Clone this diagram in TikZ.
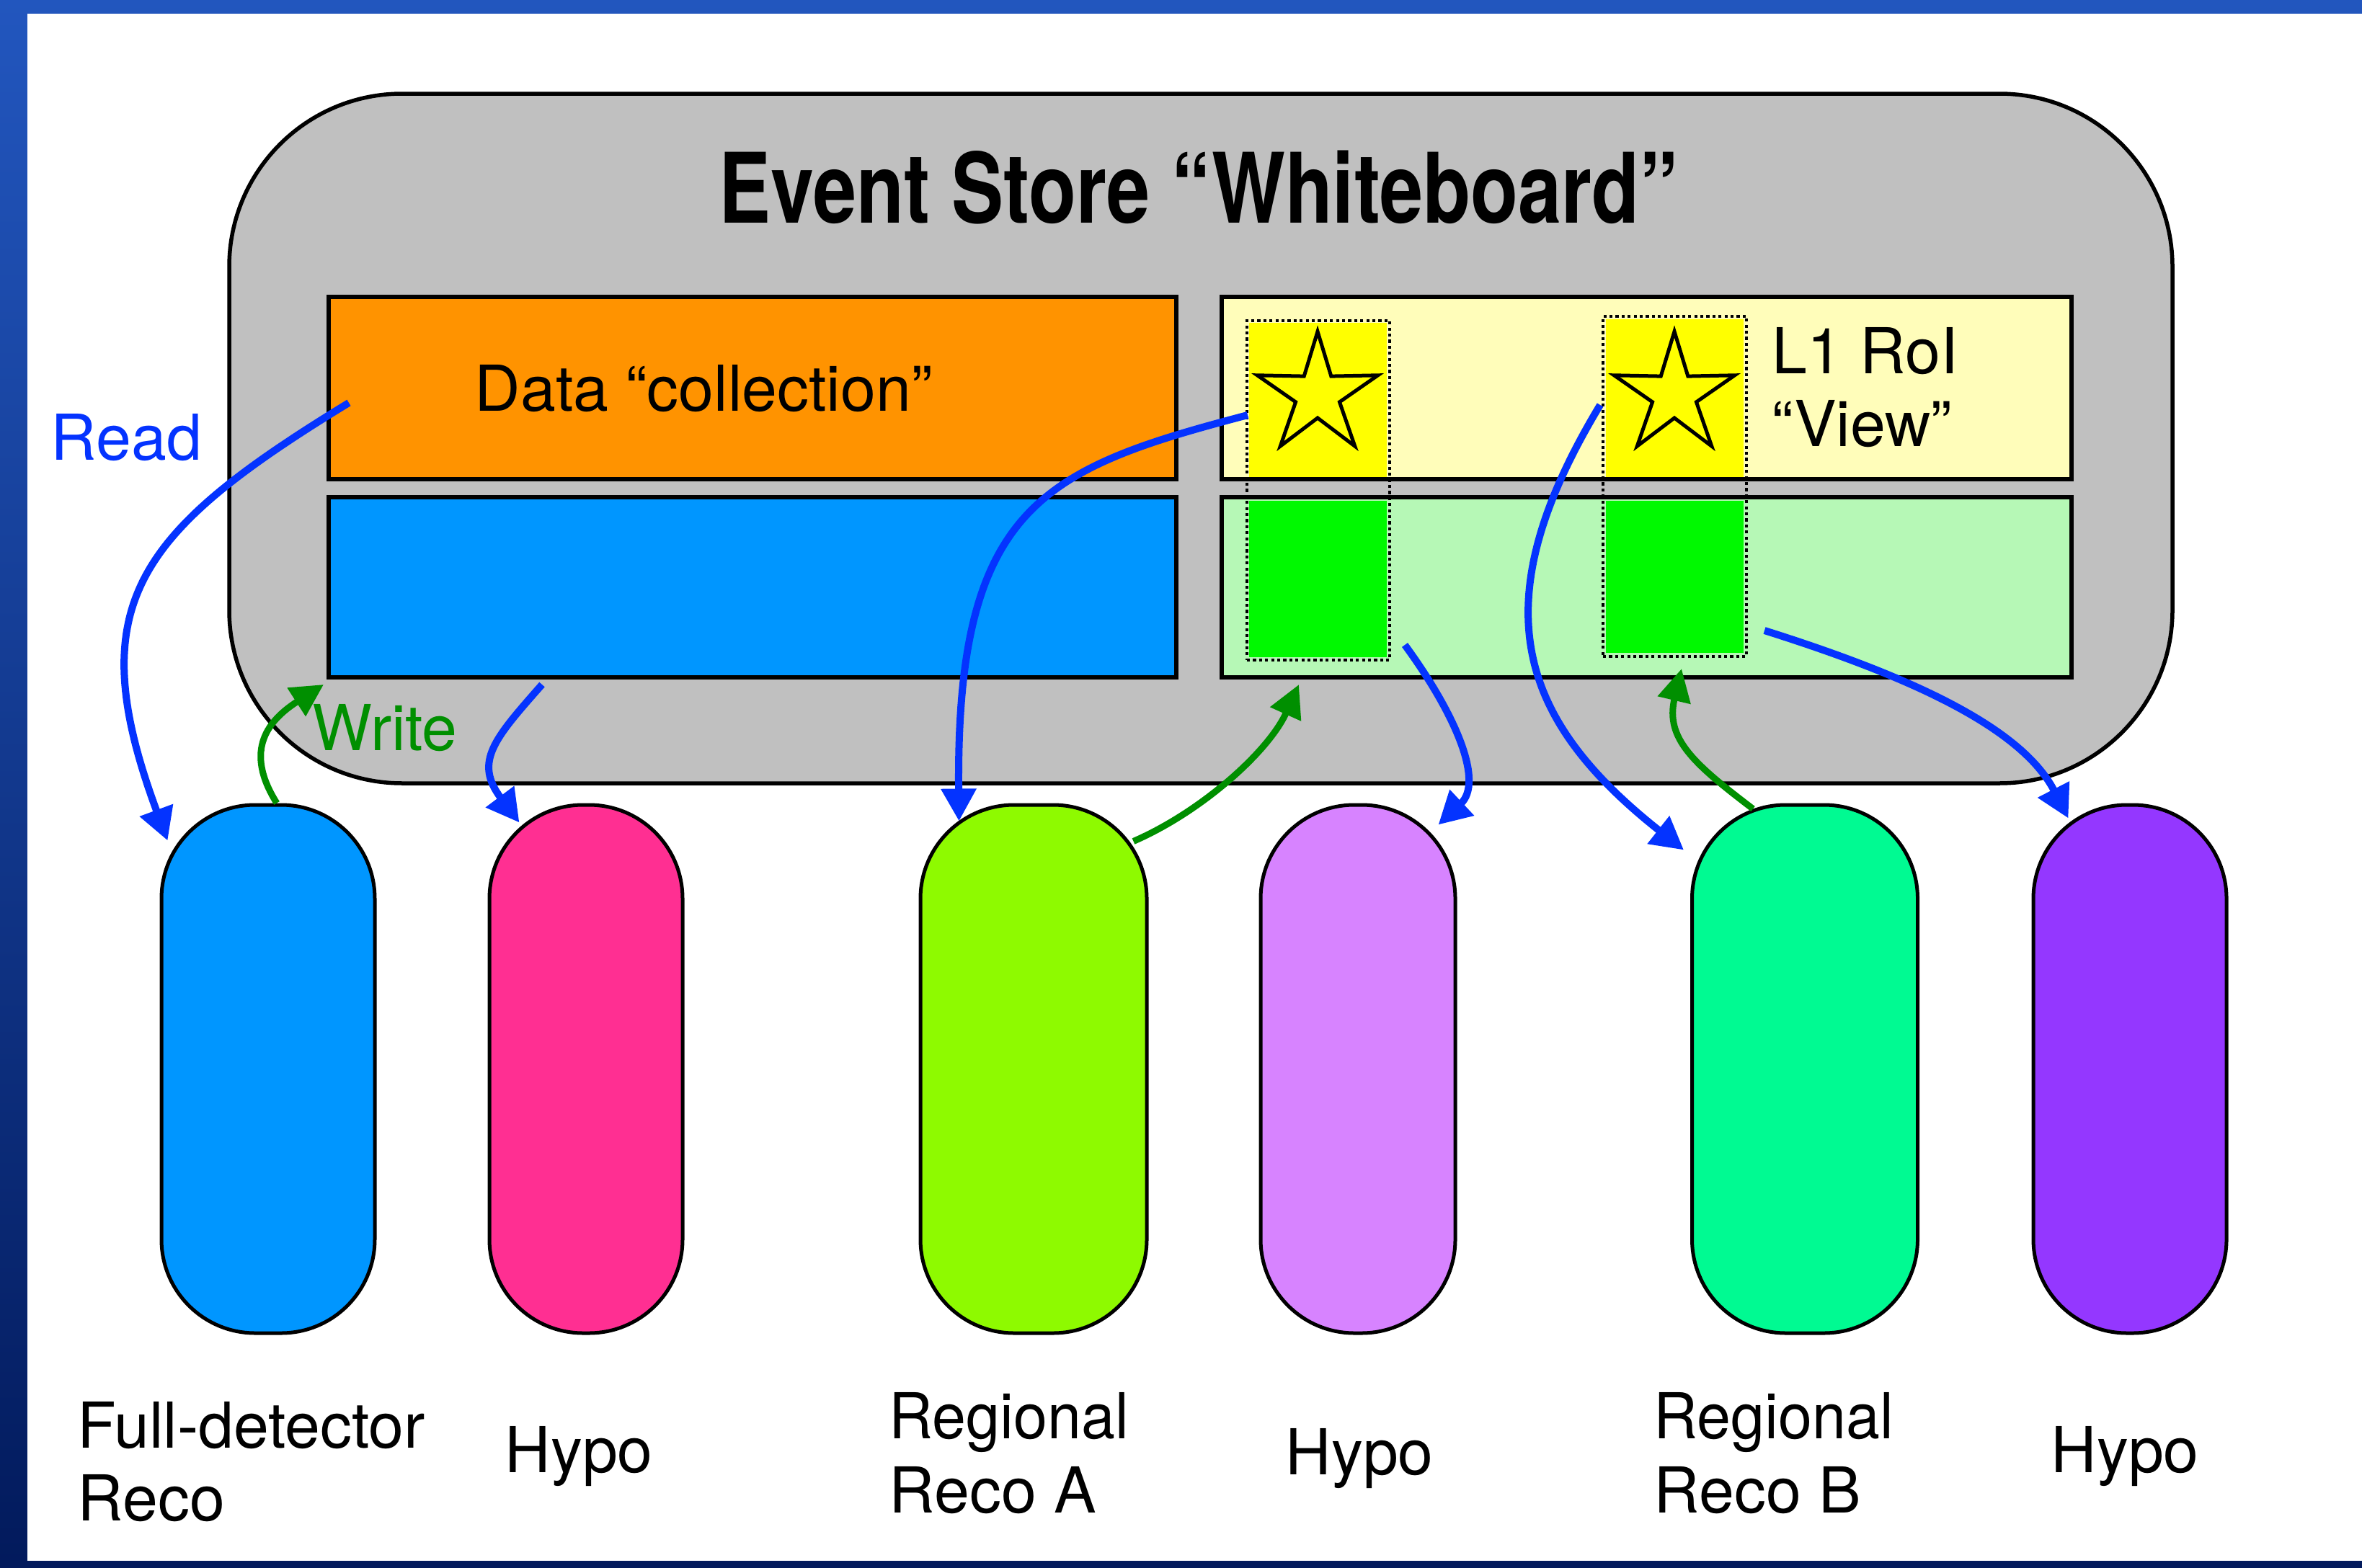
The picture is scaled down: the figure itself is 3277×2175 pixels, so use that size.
\documentclass[tikz,border=0pt]{standalone}
\usepackage{fontspec}
\setmainfont{TeX Gyre Heros}
\usepackage{graphicx}
\usetikzlibrary{shapes.geometric,arrows.meta,calc}
\definecolor{frTop}{HTML}{2256BE}
\definecolor{frBot}{HTML}{021A5C}
\definecolor{wbgray}{HTML}{C0C0C0}
\definecolor{tangerine}{HTML}{FF9300}
\definecolor{aqua}{HTML}{0096FF}
\definecolor{paleyellow}{HTML}{FFFDBA}
\definecolor{palegreen}{HTML}{B6F8B6}
\definecolor{lemon}{HTML}{FFFF00}
\definecolor{spring}{HTML}{00F900}
\definecolor{strawberry}{HTML}{FF2F92}
\definecolor{lime}{HTML}{8EFA00}
\definecolor{lavender}{HTML}{D783FF}
\definecolor{seafoam}{HTML}{00FA92}
\definecolor{grape}{HTML}{9437FF}
\definecolor{blueberry}{HTML}{0433FF}
\definecolor{clover}{HTML}{008F00}
\begin{document}
\begin{tikzpicture}[x=0.1mm,y=-0.1mm,
  every node/.style={font=\fontsize{25}{29}\selectfont},
  lbl/.style={anchor=base west,inner sep=0pt},
  box/.style={draw=black,line width=0.55mm,rectangle,inner sep=0pt},
  cell/.style={rectangle,inner sep=0pt,draw=none},
  viewbox/.style={rectangle,inner sep=0pt,draw=black,line width=0.42mm,dash pattern=on 0.42mm off 0.42mm},
  rstar/.style={star,star points=5,star point ratio=2.75,minimum size=17.6mm,inner sep=0pt,fill=lemon,draw=black,line width=0.5mm},
  pill/.style={rectangle,draw=black,line width=0.5mm,rounded corners=13mm,minimum height=73.3mm,inner sep=0pt},
  rd/.style={draw=blueberry,line width=1mm,-{Triangle[length=4.5mm,width=4.7mm]}},
  wr/.style={draw=clover,line width=0.9mm,-{Triangle[length=4.5mm,width=4.5mm]}}]
\useasboundingbox (0,0) rectangle (3277,2175);
% frame
\fill[top color=frTop,bottom color=frBot] (0,0) rectangle (3277,2175);
\fill[white] (38,19) rectangle (3277,2166);
% whiteboard
\node[draw=black,line width=0.55mm,fill=wbgray,rounded corners=24mm,minimum width=269.6mm,minimum height=95.7mm,inner sep=0pt] (wb) at (1666,608.5) {};
\node[anchor=base,inner sep=0pt,font=\bfseries\fontsize{38.4}{40}\selectfont] (title) at (1663,310) {\scalebox{0.8}[1]{Event Store “Whiteboard”}};
% store boxes
\node[box,fill=tangerine,minimum width=117.6mm,minimum height=25.3mm] (dc) at (1044,538.5) {};
\node[box,fill=aqua,minimum width=117.6mm,minimum height=25mm] (aq) at (1044,815) {};
\node[box,fill=paleyellow,minimum width=117.9mm,minimum height=25.3mm] (ly) at (2284.5,538.5) {};
\node[box,fill=palegreen,minimum width=117.9mm,minimum height=25mm] (lg) at (2284.5,815) {};
\node[lbl] (dctext) at (658,570) {Data “collection”};
% views
\node[cell,fill=lemon,minimum width=19.1mm,minimum height=21.4mm] (y1) at (1828.5,555) {};
\node[cell,fill=spring,minimum width=19.1mm,minimum height=21.7mm] (g1) at (1828.5,803.5) {};
\node[viewbox,minimum width=19.8mm,minimum height=47.1mm] (v1) at (1829,680.5) {};
\node[cell,fill=lemon,minimum width=19.1mm,minimum height=21.9mm] (y2) at (2323.5,552.5) {};
\node[cell,fill=spring,minimum width=19.1mm,minimum height=21.1mm] (g2) at (2323.5,800.5) {};
\node[viewbox,minimum width=19.9mm,minimum height=47.2mm] (v2) at (2323.5,675) {};
\node[rstar] (s1) at (1828,548) {};
\node[rstar] (s2) at (2323,548) {};
\node[lbl] (l1a) at (2458,518) {L1 RoI};
\node[lbl] (l1b) at (2458,619) {“View”};
% side labels
\node[lbl,text=blueberry] (read) at (70,638) {Read};
\node[lbl,text=clover] (write) at (433,1041) {Write};
% algorithms
\node[pill,fill=aqua,minimum width=29.6mm] (p1) at (372,1483.5) {};
\node[pill,fill=strawberry,minimum width=26.8mm] (p2) at (813,1483.5) {};
\node[pill,fill=lime,minimum width=31.4mm] (p3) at (1434,1483.5) {};
\node[pill,fill=lavender,minimum width=27mm] (p4) at (1884,1483.5) {};
\node[pill,fill=seafoam,minimum width=31.3mm] (p5) at (2504,1483.5) {};
\node[pill,fill=grape,minimum width=26.8mm] (p6) at (2955,1483.5) {};
\node[lbl] (t1a) at (107,2009) {Full-detector};
\node[lbl] (t1b) at (107,2110) {Reco};
\node[lbl] (t2) at (700,2043) {Hypo};
\node[lbl] (t3a) at (1233,1996) {\scalebox{0.96}[1]{Regional}};
\node[lbl] (t3b) at (1233,2099) {Reco A};
\node[lbl] (t4) at (1783,2046) {Hypo};
\node[lbl] (t5a) at (2294,1996) {\scalebox{0.96}[1]{Regional}};
\node[lbl] (t5b) at (2294,2099) {Reco B};
\node[lbl] (t6) at (2845,2043) {Hypo};
% connector free ends
\coordinate (rdA) at (484,559);
\coordinate (rdB) at (752,950);
\coordinate (rdC) at (1731,576);
\coordinate (wrA) at (1802,950);
\coordinate (rdD) at (1949,895);
\coordinate (rdE) at (2220,562);
\coordinate (wrB) at (2333,928);
\coordinate (rdF) at (2448,875);
\coordinate (wrC) at (449,950);
% connectors
\draw[rd] (rdA) .. controls (186,741) and (112,841) .. ($(p1.north west)+(11,52)$);
\draw[wr] ($(p1.north)+(12,0)$) .. controls (337,1040) and (373,999) .. (wrC);
\draw[rd] (rdB) .. controls (686,1025) and (657,1057) .. ($(p2.north west)+(44,27)$);
\draw[rd] (rdC) .. controls (1450,650) and (1326,700) .. ($(p3.north west)+(56,25)$);
\draw[wr] ($(p3.north east)+(-21,53)$) .. controls (1670,1125) and (1761,1041) .. (wrA);
\draw[rd] (rdD) .. controls (2020,992) and (2059,1085) .. ($(p4.north east)+(-26,30)$);
\draw[rd] (rdE) .. controls (2054,837) and (2104,996) .. ($(p5.north west)+(-9,65)$);
\draw[wr] ($(p5.north west)+(87,8)$) .. controls (2350,1060) and (2310,1025) .. (wrB);
\draw[rd] (rdF) .. controls (2638,935) and (2803,1006) .. ($(p6.north west)+(51,21)$);
\end{tikzpicture}
\end{document}
